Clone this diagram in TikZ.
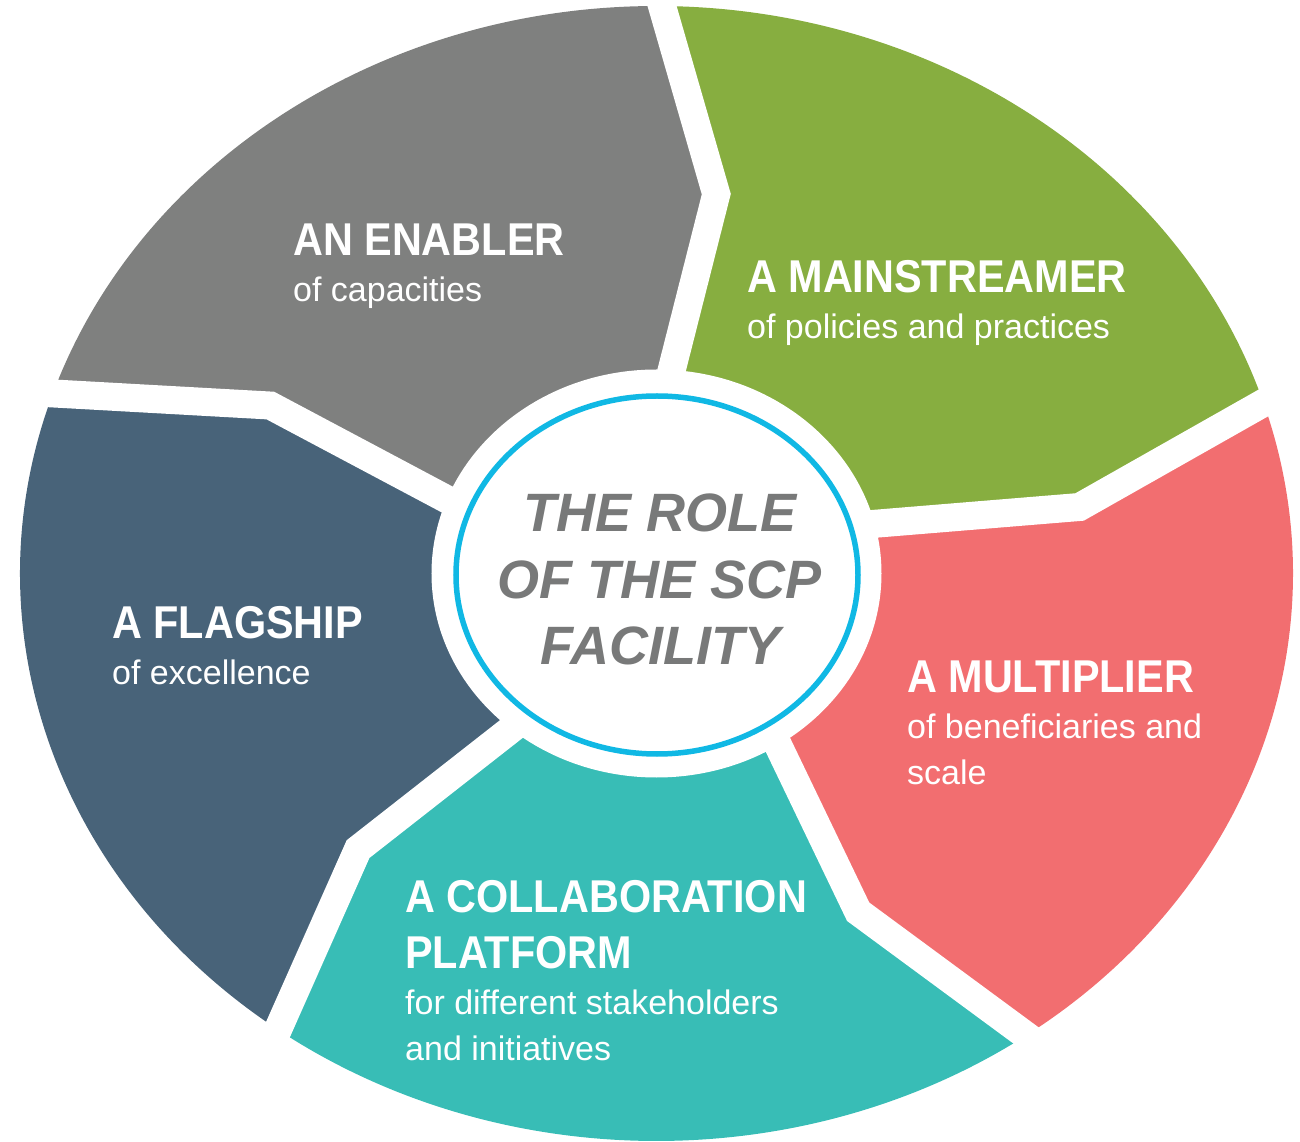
\documentclass[tikz,border=0pt]{standalone}
\usepackage{fontspec}
\setmainfont{Liberation Sans}
\newfontfamily\headfont{Liberation Sans}[FakeStretch=0.9]
\usepackage{tikz}
\usetikzlibrary{calc, positioning}

\definecolor{segGray}{HTML}{7F807F}
\definecolor{segGreen}{HTML}{87AE40}
\definecolor{segRed}{HTML}{F26E70}
\definecolor{segTeal}{HTML}{38BDB6}
\definecolor{segBlue}{HTML}{486379}
\definecolor{ringBlue}{HTML}{10B8E4}
\definecolor{titleGray}{HTML}{787979}

\newcommand{\seghead}[1]{{\headfont\bfseries\fontsize{46}{46}\selectfont #1}}

\begin{document}
\begin{tikzpicture}[
  x=1pt, y=1pt,
  seglabel/.style={
    anchor=base west, align=left, inner sep=0pt,
    text=white, font=\fontsize{34}{46}\selectfont
  },
  title/.style={
    anchor=base, align=center, inner sep=0pt,
    text=titleGray, font=\fontsize{54}{66.5}\selectfont\bfseries\itshape
  },
  gap/.style={white, line width=28pt},
  ring/.style={draw=ringBlue, line width=5.5pt}
]
\useasboundingbox (-656.5,-568.5) rectangle (643.5,573.5);

\def\rx{636.5} \def\ry{567.5}
\def\bx{429.6} \def\by{383.1}
\def\ix{191} \def\iy{170}

% Boundary points
\foreach \k in {0,...,4} {
  \pgfmathsetmacro\a{89.5-72*\k}
  \pgfmathsetmacro\ab{\a-7.5}
  \pgfmathsetmacro\ai{\a-1.5}
  \coordinate (i\k) at ({\ai}:{\ix} and {\iy});
  \coordinate (b\k) at ({\ab}:{\bx} and {\by});
  \coordinate (o\k) at ({\a}:{\rx} and {\ry});
}

% Segments
\foreach \col [count=\k from 0] in {segGreen, segRed, segTeal, segBlue, segGray} {
  \pgfmathtruncatemacro\n{mod(\k+1,5)}
  \pgfmathsetmacro\a{89.5-72*\k}
  \pgfmathsetmacro\e{\a-72}
  \fill[\col] (0,0) -- (i\k) -- (b\k) -- (o\k)
    arc[start angle=\a, end angle=\e, x radius=\rx, y radius=\ry]
    -- (b\n) -- (i\n) -- cycle;
}

% Gaps
\foreach \k in {0,...,4}
  \draw[gap] (i\k) -- (b\k) -- ($(b\k)!1.25!(o\k)$);

% Centre
\fill[white] (0,0) ellipse [x radius=225, y radius=204];
\draw[ring] (0.5,-1.5) ellipse [x radius=201, y radius=179];
\node[title] (role) at (3.5,-91.5) {THE ROLE\\OF THE SCP\\FACILITY};

% Labels (placed at the baseline of their last line)
\node[seglabel] (enabler) at (-363.5,271.5) {\seghead{AN ENABLER}\\of capacities};
\node[seglabel] (mainstreamer) at (90.5,234.5) {\seghead{A MAINSTREAMER}\\of policies and practices};
\node[seglabel] (flagship) at (-544.5,-110.5) {\seghead{A FLAGSHIP}\\of excellence};
\node[seglabel] (multiplier) at (250.5,-210.5) {\seghead{A MULTIPLIER}\\of beneficiaries and\\scale};
\node[seglabel] (platform) at (-251.5,-486.5) {\seghead{A COLLABORATION}\\[10pt]\seghead{PLATFORM}\\for different stakeholders\\and initiatives};

\end{tikzpicture}
\end{document}
